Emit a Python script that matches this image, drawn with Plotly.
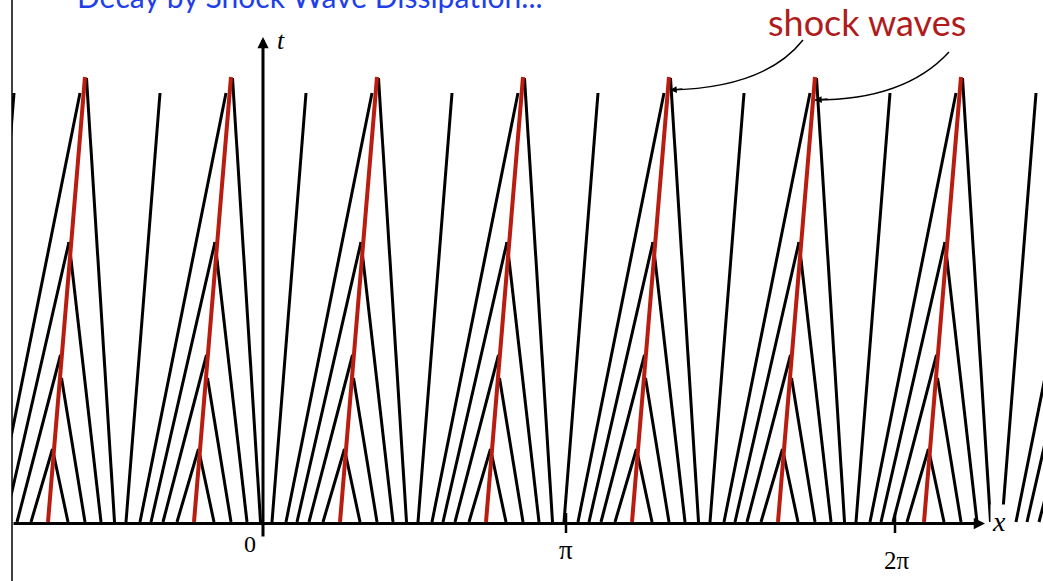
import plotly.graph_objects as go

# ---- data (units: 1 = one screen pixel of the reference; x measured from the t-axis, t up from the x-axis)
ORIGIN_PX = 263          # pixel column of x = 0 in the reference
shock_base_px = [-98, 48, 194, 340, 486, 632, 778, 924, 1070]   # where each shock starts (t = 0)

# one period of the characteristic pattern, relative to the shock base
shock_top_dx = 37
shock_top_t = 445
char_base_dx = [20, 37, 53, 66.5, 78, -17, -31, -43, -54]       # foot of each characteristic
char_top_dx = [4.5, 13.5, 21, 38.5, 112, 4.5, 12.5, 21, 32]     # where it ends
char_top_t = [73, 144, 280, 444, 429, 73, 167, 280, 429]

tick_pos = [0, 303, 632]
tick_text = ["0", "π", "2π"]

title_text = "Decay by Shock Wave Dissipation..."
label_text = "shock waves"

# ---- build traces
bx, bt, rx, rt = [], [], [], []
for s in shock_base_px:
    x0 = s - ORIGIN_PX
    rx += [x0, x0 + shock_top_dx, None]
    rt += [0, shock_top_t, None]
    for b, d, tt in zip(char_base_dx, char_top_dx, char_top_t):
        bx += [x0 + b, x0 + d, None]
        bt += [0, tt, None]

RED = "#b81d10"
fig = go.Figure()
fig.add_trace(go.Scatter(x=bx, y=bt, mode="lines",
                         line=dict(color="black", width=3), hoverinfo="skip"))
fig.add_trace(go.Scatter(x=rx, y=rt, mode="lines",
                         line=dict(color=RED, width=4), hoverinfo="skip"))

W, H = 1043, 581
left_px = 12
fig.update_layout(
    width=W, height=H, margin=dict(l=0, r=0, t=0, b=0),
    paper_bgcolor="white", plot_bgcolor="white", showlegend=False,
    xaxis=dict(domain=[left_px / W, 1], range=[left_px - ORIGIN_PX, W - ORIGIN_PX],
               visible=False, fixedrange=True),
    yaxis=dict(range=[-59, 522], visible=False, fixedrange=True),
)

# left frame line
fig.add_shape(type="line", xref="x domain", yref="paper", x0=0, x1=0, y0=0, y1=1,
              line=dict(color="black", width=1.5))

# axes with arrows
fig.add_annotation(x=722, y=-1.5, ax=left_px - ORIGIN_PX, ay=-1.5, axref="x", ayref="y",
                   showarrow=True, arrowhead=2, arrowsize=0.75, arrowwidth=3,
                   arrowcolor="black", text="")
fig.add_annotation(x=0, y=485, ax=0, ay=-16, axref="x", ayref="y",
                   showarrow=True, arrowhead=2, arrowsize=0.75, arrowwidth=3,
                   arrowcolor="black", text="")

# tick marks and labels
label_offsets = {"0": (-13, -22, 24), "π": (0, -28, 27), "2π": (2, -38, 25)}
for p, txt in zip(tick_pos, tick_text):
    if p != 0:
        fig.add_shape(type="line", x0=p, x1=p, y0=-11, y1=9,
                      line=dict(color="black", width=2.5))
    dx, dy, fs = label_offsets[txt]
    fig.add_annotation(x=p + dx, y=dy, text=txt, showarrow=False,
                       font=dict(family="Liberation Serif", size=fs, color="black"))

fig.add_annotation(x=18, y=482, text="<i>t</i>", showarrow=False,
                   font=dict(family="Liberation Serif", size=26, color="black"))
fig.add_annotation(x=736, y=1, text="<i>x</i>", showarrow=False, bgcolor="white",
                   font=dict(family="Liberation Serif", size=28, color="black"))

# title (cut off at the top edge like the reference)
fig.add_annotation(x=75 - ORIGIN_PX, y=506, xanchor="left", yanchor="bottom",
                   text=title_text, showarrow=False,
                   font=dict(family="Lato", size=30, color="#1f3fe8"))

# "shock waves" label with curved arrows
fig.add_annotation(x=604, y=500, text=label_text, showarrow=False,
                   font=dict(family="Lato", size=36, color="#b01c1c"))
fig.add_shape(type="path", path="M 540,482 Q 502,434 407,432",
              line=dict(color="black", width=1.5))
fig.add_shape(type="path", path="M 686,470 Q 642,422 552,422",
              line=dict(color="black", width=1.5))
for tx, ty in [(407, 432), (552, 422)]:
    fig.add_annotation(x=tx, y=ty, ax=14, ay=-1, showarrow=True, arrowhead=2,
                       arrowsize=0.9, arrowwidth=1.5, arrowcolor="black", text="")

fig.write_html("out.html", config={"displayModeBar": False},
               post_script="document.body.style.margin='0';")
